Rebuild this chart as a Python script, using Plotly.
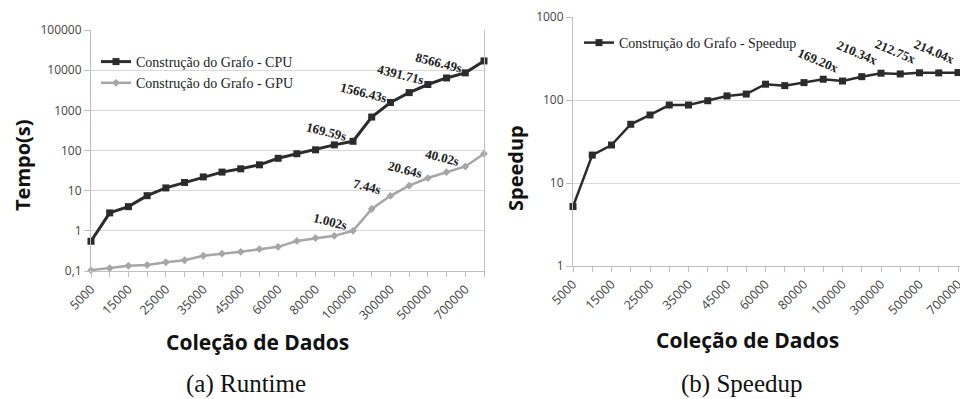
import numpy as np
import plotly.graph_objects as go

categories = ["5000", "10000", "15000", "20000", "25000", "30000", "35000", "40000",
              "45000", "50000", "60000", "70000", "80000", "90000", "100000", "200000",
              "300000", "400000", "500000", "600000", "700000", "800000"]

cpu_time = [0.55, 2.8, 4.0, 7.5, 11.7, 16, 22, 29, 35, 44, 64, 83, 104, 138,
            169.59, 680, 1566.43, 2760, 4391.71, 6400, 8566.49, 17000]
gpu_time = [0.105, 0.117, 0.135, 0.141, 0.165, 0.185, 0.24, 0.27, 0.30, 0.35, 0.40,
            0.56, 0.66, 0.75, 1.002, 3.5, 7.44, 13.3, 20.64, 29, 40.02, 83]
speedup = [5.2, 21.7, 28.7, 51, 66, 87, 87, 98, 112, 118, 155, 149, 162, 178,
           169.20, 191, 210.34, 206, 212.75, 212, 214.04, 214]

labeled_idx = [14, 16, 18, 20]
cpu_labels = ["169.59s", "1566.43s", "4391.71s", "8566.49s"]
gpu_labels = ["1.002s", "7.44s", "20.64s", "40.02s"]
speed_labels = ["169.20x", "210.34x", "212.75x", "214.04x"]

left_yticks = [0.1, 1, 10, 100, 1000, 10000, 100000]
left_yticktext = ["0,1", "1", "10", "100", "1000", "10000", "100000"]
right_yticks = [1, 10, 100, 1000]
right_yticktext = ["1", "10", "100", "1000"]

# page is 968x399; the html body adds an 8px margin, so the figure itself is smaller
W, H, OFF = 968, 399, 8
FW, FH = W - OFF, H - OFF


def px(x):
    return (x - OFF) / FW


def py(y):
    return (H - y) / FH


xidx = list(range(len(categories)))
xticktext = [c if i % 2 == 0 else "" for i, c in enumerate(categories)]

DARK = "#2b2b2b"
GRAY = "#a6a6a6"
GRID = "#d9d9d9"
AXIS = "#bfbfbf"
TICKFONT = dict(family="Open Sans", size=12, color="#444444")
SANSB = "Open Sans"
SERIF = "Liberation Serif"

fig = go.Figure()

fig.add_trace(go.Scatter(x=xidx, y=cpu_time, mode="lines+markers", name="Construção do Grafo - CPU",
                         line=dict(color=DARK, width=3), marker=dict(symbol="square", size=7, color=DARK),
                         xaxis="x", yaxis="y", cliponaxis=False, legend="legend"))
fig.add_trace(go.Scatter(x=xidx, y=gpu_time, mode="lines+markers", name="Construção do Grafo - GPU",
                         line=dict(color=GRAY, width=2.5), marker=dict(symbol="diamond", size=6, color=GRAY),
                         xaxis="x", yaxis="y", cliponaxis=False, legend="legend"))
fig.add_trace(go.Scatter(x=xidx, y=speedup, mode="lines+markers", name="Construção do Grafo - Speedup",
                         line=dict(color=DARK, width=2.5), marker=dict(symbol="square", size=7, color=DARK),
                         xaxis="x2", yaxis="y2", cliponaxis=False, legend="legend2"))

common_x = dict(tickmode="array", tickvals=xidx, ticktext=xticktext, tickangle=-45,
                tickfont=dict(family="Open Sans", size=12.5, color="#444444"),
                ticks="outside", ticklen=5, tickcolor=AXIS, showgrid=False, automargin=False,
                showline=True, linecolor=AXIS, linewidth=1, zeroline=False)

fig.update_layout(
    template="none",
    width=FW, height=FH, margin=dict(l=0, r=0, t=0, b=0, pad=0, autoexpand=False),
    paper_bgcolor="white", plot_bgcolor="white",
    xaxis=dict(domain=[px(91), px(484)], range=[0, 21], anchor="y", **common_x),
    yaxis=dict(domain=[py(271), py(30)], type="log", range=[-1, 5], anchor="x",
               tickmode="array", tickvals=left_yticks, ticktext=left_yticktext, tickfont=TICKFONT,
               ticks="outside", ticklen=6, tickcolor=AXIS, showgrid=True, gridcolor=GRID, gridwidth=1,
               showline=True, linecolor=AXIS, mirror=True, zeroline=False, automargin=False),
    xaxis2=dict(domain=[px(573), 1.0], range=[0, (W - 573) / 19.25], anchor="y2", **common_x),
    yaxis2=dict(domain=[py(266), py(17)], type="log", range=[0, 3], anchor="x2",
                tickmode="array", tickvals=right_yticks, ticktext=right_yticktext, tickfont=TICKFONT,
                ticks="outside", ticklen=6, tickcolor=AXIS, showgrid=True, gridcolor=GRID, gridwidth=1,
                showline=True, linecolor=AXIS, zeroline=False, automargin=False),
    legend=dict(x=px(96), y=py(46), xanchor="left", yanchor="top", bgcolor="rgba(0,0,0,0)",
                font=dict(family=SERIF, size=14, color="#222222"), tracegroupgap=0, itemwidth=30),
    legend2=dict(x=px(579), y=py(27), xanchor="left", yanchor="top", bgcolor="rgba(0,0,0,0)",
                 font=dict(family=SERIF, size=14, color="#222222"), itemwidth=30),
    showlegend=True,
)

annotations = []
LBLFONT = dict(family=SERIF, size=13, color="#222222", weight="bold")
for k, i in enumerate(labeled_idx):
    annotations.append(dict(x=xidx[i], y=np.log10(cpu_time[i]), xref="x", yref="y", text=cpu_labels[k],
                            showarrow=False, xshift=-27, yshift=10, textangle=14, font=LBLFONT))
    annotations.append(dict(x=xidx[i], y=np.log10(gpu_time[i]), xref="x", yref="y", text=gpu_labels[k],
                            showarrow=False, xshift=-23, yshift=9, textangle=14, font=LBLFONT))
    annotations.append(dict(x=xidx[i], y=np.log10(speedup[i]), xref="x2", yref="y2", text=speed_labels[k],
                            showarrow=False, xshift=-24, yshift=21, textangle=23, font=LBLFONT))

TITLEF = dict(family=SANSB, size=21, color="#111111", weight="bold")
YTITLEF = dict(family=SANSB, size=20, color="#111111", weight="bold")
CAPF = dict(family=SERIF, size=25, color="#111111")
annotations += [
    dict(x=px(22), y=py(165), xref="paper", yref="paper", text="Tempo(s)", textangle=-90,
         xanchor="center", yanchor="middle", showarrow=False, font=YTITLEF),
    dict(x=px(515), y=py(168), xref="paper", yref="paper", text="Speedup", textangle=-90,
         xanchor="center", yanchor="middle", showarrow=False, font=YTITLEF),
    dict(x=px(257), y=py(342), xref="paper", yref="paper", text="Coleção de Dados",
         xanchor="center", yanchor="middle", showarrow=False, font=TITLEF),
    dict(x=px(747), y=py(340), xref="paper", yref="paper", text="Coleção de Dados",
         xanchor="center", yanchor="middle", showarrow=False, font=TITLEF),
    dict(x=px(246), y=py(384), xref="paper", yref="paper", text="(a) Runtime",
         xanchor="center", yanchor="middle", showarrow=False, font=CAPF),
    dict(x=px(742), y=py(384), xref="paper", yref="paper", text="(b) Speedup",
         xanchor="center", yanchor="middle", showarrow=False, font=CAPF),
]
fig.update_layout(annotations=annotations)

fig.write_html("out.html")
